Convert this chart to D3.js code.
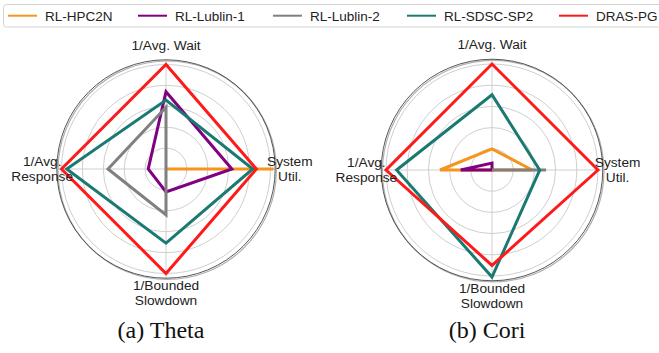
<!DOCTYPE html>
<html>
<head>
<meta charset="utf-8">
<script src="https://cdn.jsdelivr.net/npm/d3@7"></script>
<style>
  html, body { margin: 0; padding: 0; background: #fff; }
  svg { display: block; }
</style>
</head>
<body>
<svg id="chart" width="659" height="353"></svg>
<script>
// ---- data ----
const seriesNames = ["RL-HPC2N", "RL-Lublin-1", "RL-Lublin-2", "RL-SDSC-SP2", "DRAS-PG"];
const seriesColors = ["#f7941d", "#800080", "#808080", "#1a7a72", "#ff1a1a"];
// axis order: System Util., 1/Avg. Wait, 1/Avg. Response, 1/Bounded Slowdown
const axisLabels = [["System", "Util."], ["1/Avg. Wait"], ["1/Avg.", "Response"], ["1/Bounded", "Slowdown"]];
const gridTicks = [0.2, 0.4, 0.6, 0.8, 1.0];
const thetaValues = [
  [1.03, 0.00, 0.00, 0.00],
  [0.63, 0.74, 0.17, 0.22],
  [0.00, 0.59, 0.555, 0.44],
  [0.83, 0.66, 0.95, 0.71],
  [0.865, 1.00, 1.00, 1.00]
];
const coriValues = [
  [0.38, 0.20, 0.49, 0.00],
  [0.00, 0.065, 0.295, 0.00],
  [0.51, 0.00, 0.00, 0.00],
  [0.45, 0.71, 0.90, 1.01],
  [1.00, 1.00, 1.00, 0.90]
];
const captions = ["(a) Theta", "(b) Cori"];

// ---- drawing ----
const svg = d3.select("#chart");
const axisAngles = [Math.PI / 2, 0, -Math.PI / 2, -Math.PI]; // d3 radial: 0 = up, clockwise

function drawRadar(values, cx, cy, R, caption, capX) {
  const g = svg.append("g").attr("transform", `translate(${cx},${cy})`);
  const r = d3.scaleLinear().domain([0, 1]).range([0, R]);
  const rmax = 1.045;

  // grid circles
  g.selectAll("circle.grid").data(gridTicks).join("circle")
    .attr("class", "grid")
    .attr("r", d => r(d))
    .attr("fill", "none")
    .attr("stroke", "#cfcfcf")
    .attr("stroke-width", 1);

  // spokes
  g.selectAll("line.spoke").data(axisAngles).join("line")
    .attr("class", "spoke")
    .attr("x1", 0).attr("y1", 0)
    .attr("x2", a => r(rmax) * Math.sin(a))
    .attr("y2", a => -r(rmax) * Math.cos(a))
    .attr("stroke", "#cfcfcf")
    .attr("stroke-width", 1);

  // outer frame with slight lower-right shadow
  g.append("circle").attr("cx", 1.2).attr("cy", 1.2).attr("r", r(rmax))
    .attr("fill", "none").attr("stroke", "#b0b0b0").attr("stroke-width", 1.2);
  g.append("circle").attr("r", r(rmax))
    .attr("fill", "none").attr("stroke", "#444").attr("stroke-width", 0.9);

  // series polygons
  const line = d3.lineRadial()
    .angle((d, i) => axisAngles[i])
    .radius(d => r(d))
    .curve(d3.curveLinearClosed);

  g.selectAll("path.series").data(values).join("path")
    .attr("class", "series")
    .attr("d", d => line(d))
    .attr("fill", "none")
    .attr("stroke", (d, i) => seriesColors[i])
    .attr("stroke-width", 3)
    .attr("stroke-linejoin", "miter");

  // axis labels
  const labelR = R * 1.185;
  axisLabels.forEach((lines, i) => {
    const a = axisAngles[i];
    const lx = labelR * Math.sin(a);
    const ly = -labelR * Math.cos(a);
    const t = g.append("text")
      .attr("x", lx).attr("y", ly)
      .attr("text-anchor", "middle")
      .attr("font-family", "Liberation Sans, Arial, sans-serif")
      .attr("font-size", "13.7px")
      .attr("fill", "#222");
    const n = lines.length;
    lines.forEach((s, j) => {
      t.append("tspan")
        .attr("x", lx)
        .attr("dy", j === 0 ? ((-(n - 1) / 2) * 14.5 + 4.7) + "px" : "14.5px")
        .text(s);
    });
  });

  svg.append("text")
    .attr("x", capX).attr("y", 338)
    .attr("text-anchor", "middle")
    .attr("font-family", "Liberation Serif, Times New Roman, serif")
    .attr("font-size", "24px")
    .attr("fill", "#111")
    .text(caption);
}

drawRadar(thetaValues, 166, 169, 104.5, captions[0], 161);
drawRadar(coriValues, 492, 170, 106, captions[1], 487);

// ---- legend ----
const legend = svg.append("g");
legend.append("rect")
  .attr("x", 3.5).attr("y", 4.5).attr("width", 670).attr("height", 22.5)
  .attr("rx", 3).attr("fill", "#fff").attr("stroke", "#d4d4d4").attr("stroke-width", 1);
const legendX = [8, 138, 273, 407, 559];
seriesNames.forEach((name, i) => {
  const x = legendX[i];
  legend.append("line")
    .attr("x1", x).attr("x2", x + 29)
    .attr("y1", 15.7).attr("y2", 15.7)
    .attr("stroke", seriesColors[i]).attr("stroke-width", 2);
  legend.append("text")
    .attr("x", x + 37).attr("y", 20.5)
    .attr("font-family", "Liberation Sans, Arial, sans-serif")
    .attr("font-size", "13.5px")
    .attr("fill", "#222")
    .text(name);
});
</script>
</body>
</html>
